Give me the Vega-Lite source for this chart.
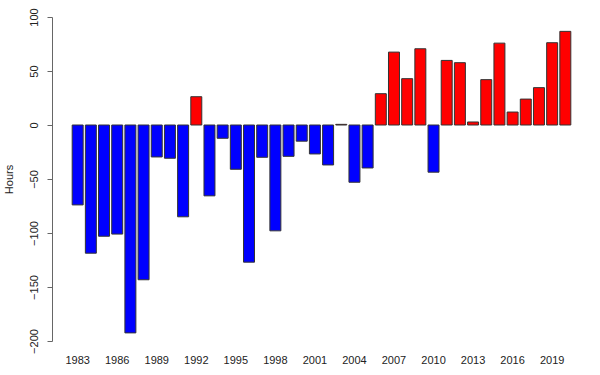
{
  "$schema": "https://vega.github.io/schema/vega-lite/v6.json",
  "width": 525,
  "height": 324,
  "autosize": "none",
  "padding": {"left": 59, "top": 17, "right": 16, "bottom": 34},
  "background": "white",
  "config": {"view": {"stroke": null}, "font": "Liberation Sans"},
  "data": {"values": [
    {"year": 1983, "hours": -74},
    {"year": 1984, "hours": -118.7},
    {"year": 1985, "hours": -103},
    {"year": 1986, "hours": -101},
    {"year": 1987, "hours": -192.5},
    {"year": 1988, "hours": -143.3},
    {"year": 1989, "hours": -29.6},
    {"year": 1990, "hours": -30.8},
    {"year": 1991, "hours": -85},
    {"year": 1992, "hours": 26.2},
    {"year": 1993, "hours": -65.6},
    {"year": 1994, "hours": -12.3},
    {"year": 1995, "hours": -41},
    {"year": 1996, "hours": -127},
    {"year": 1997, "hours": -29.9},
    {"year": 1998, "hours": -98},
    {"year": 1999, "hours": -29},
    {"year": 2000, "hours": -15},
    {"year": 2001, "hours": -26.8},
    {"year": 2002, "hours": -37},
    {"year": 2003, "hours": 0.6},
    {"year": 2004, "hours": -53},
    {"year": 2005, "hours": -39.8},
    {"year": 2006, "hours": 29},
    {"year": 2007, "hours": 67.5},
    {"year": 2008, "hours": 42.9},
    {"year": 2009, "hours": 70.6},
    {"year": 2010, "hours": -43.7},
    {"year": 2011, "hours": 59.8},
    {"year": 2012, "hours": 57.7},
    {"year": 2013, "hours": 2.8},
    {"year": 2014, "hours": 42},
    {"year": 2015, "hours": 75.8},
    {"year": 2016, "hours": 12},
    {"year": 2017, "hours": 24},
    {"year": 2018, "hours": 34.6},
    {"year": 2019, "hours": 76.2},
    {"year": 2020, "hours": 86.7}
  ]},
  "mark": {"type": "bar", "stroke": "#333333", "strokeWidth": 1},
  "encoding": {
    "x": {
      "field": "year",
      "type": "ordinal",
      "scale": {"type": "band", "paddingInner": 0.1667, "paddingOuter": 1},
      "axis": {
        "title": null,
        "domain": false,
        "ticks": false,
        "grid": false,
        "labelAngle": 0,
        "labelFontSize": 11,
        "labelColor": "#222222",
        "labelPadding": 13,
        "values": [1983, 1986, 1989, 1992, 1995, 1998, 2001, 2004, 2007, 2010, 2013, 2016, 2019]
      }
    },
    "y": {
      "field": "hours",
      "type": "quantitative",
      "scale": {"domain": [-200, 100], "nice": false, "zero": true},
      "axis": {
        "values": [-200, -150, -100, -50, 0, 50, 100],
        "offset": 7,
        "grid": false,
        "labelAngle": -90,
        "labelFontSize": 11,
        "labelColor": "#222222",
        "labelPadding": 8,
        "tickSize": 5,
        "tickColor": "#666666",
        "domainColor": "#666666",
        "title": "Hours",
        "titleFontSize": 11,
        "titleFontWeight": "normal",
        "titleColor": "#222222",
        "titlePadding": 14
      }
    },
    "color": {
      "condition": {"test": "datum.hours > 0", "value": "#ff0000"},
      "value": "#0000ff"
    }
  }
}
